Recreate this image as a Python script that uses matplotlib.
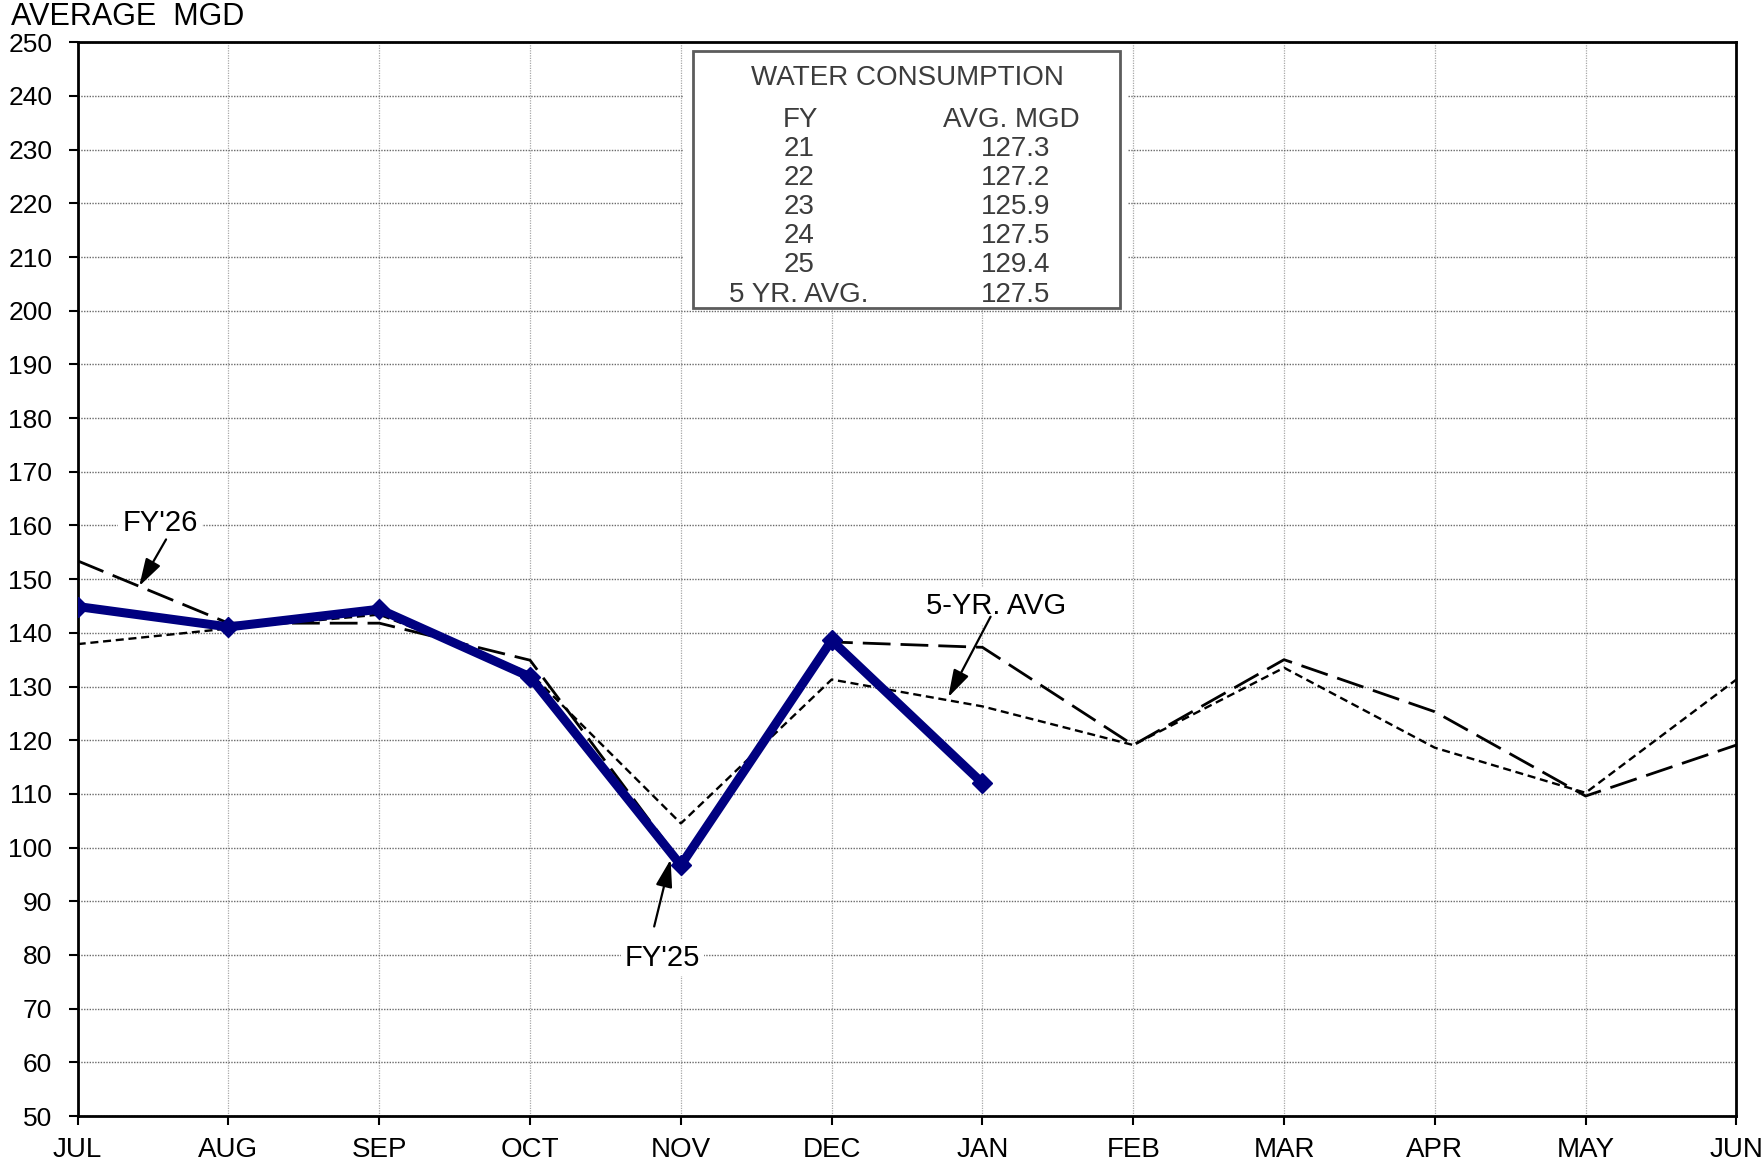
import matplotlib
matplotlib.use("Agg")
import matplotlib.pyplot as plt
from matplotlib.patches import Rectangle

plt.rcParams['font.family'] = ['Liberation Sans', 'DejaVu Sans']

# ---- data -------------------------------------------------------------
months = ['JUL', 'AUG', 'SEP', 'OCT', 'NOV', 'DEC',
          'JAN', 'FEB', 'MAR', 'APR', 'MAY', 'JUN']
fy26_mgd = [144.9, 141.1, 144.4, 131.8, 96.7, 138.6, 112.0]
fy25_mgd = [153.4, 141.8, 141.8, 134.9, 97.2, 138.3,
            137.3, 119.1, 135.0, 125.3, 109.6, 119.1]
avg5_mgd = [137.9, 140.8, 143.4, 132.5, 104.5, 131.3,
            126.3, 119.1, 133.5, 118.6, 110.2, 131.3]

table_fy = ['21', '22', '23', '24', '25', '5 YR. AVG.']
table_avg = ['127.3', '127.2', '125.9', '127.5', '129.4', '127.5']

y_ticks = list(range(50, 251, 10))

# ---- figure / axes ----------------------------------------------------
W, H = 1763, 1166
L, R, T, B = 77.7, 1736.4, 42.3, 1116.0
fig = plt.figure(figsize=(W / 100, H / 100), dpi=100)
ax = fig.add_axes([L / W, 1 - B / H, (R - L) / W, (B - T) / H])

x_all = list(range(len(months)))
ax.set_xlim(0, len(months) - 1)
ax.set_ylim(50, 250)
ax.set_xticks(x_all)
ax.set_xticklabels(months)
ax.set_yticks(y_ticks)

ax.set_axisbelow(True)
ax.yaxis.grid(True, color='#6a6a6a', lw=1.0, ls=(0, (1, 1)))
ax.xaxis.grid(True, color='#a8a8a8', lw=0.9, ls=(0, (1, 1)))

for sp in ax.spines.values():
    sp.set_linewidth(2.0)
    sp.set_color('black')

ax.tick_params(axis='both', direction='out', length=6.3, width=1.5,
               colors='black')
ax.tick_params(axis='y', pad=12, labelsize=19)
ax.tick_params(axis='x', pad=9, labelsize=20)

# ---- series -----------------------------------------------------------
ax.plot(x_all, avg5_mgd, color='black', lw=1.7, dashes=(3.4, 2.0), zorder=3)
ax.plot(x_all, fy25_mgd, color='black', lw=2.0, dashes=(10, 3.6), zorder=3)
ax.plot(x_all[:len(fy26_mgd)], fy26_mgd, color='#000080', lw=6.5,
        marker='D', ms=10, zorder=4)

# ---- y-axis title -----------------------------------------------------
fig.text(11 / W, 1 - 25 / H, 'AVERAGE  MGD', fontsize=22,
         ha='left', va='baseline')


# ---- summary table ----------------------------------------------------
def axpt(px, py):
    return (px - L) / (R - L), (B - py) / (B - T)


x0, y0 = axpt(683, 309)
x1, y1 = axpt(1128, T)
ax.add_patch(Rectangle((x0, y0), x1 - x0, y1 - y0, transform=ax.transAxes,
                       facecolor='white', edgecolor='none', zorder=1))
x0, y0 = axpt(693.3, 308)
x1, y1 = axpt(1120, 51)
ax.add_patch(Rectangle((x0, y0), x1 - x0, y1 - y0, transform=ax.transAxes,
                       facecolor='none', edgecolor='#5c5c5c', lw=2.0, zorder=2))

tcol = '#3c3c3c'
tfs = 20
ax.text(*axpt(907.5, 85), 'WATER CONSUMPTION', transform=ax.transAxes,
        ha='center', va='baseline', fontsize=tfs, color=tcol, zorder=5)
ax.text(*axpt(800, 126.7), 'FY', transform=ax.transAxes,
        ha='center', va='baseline', fontsize=tfs, color=tcol, zorder=5)
ax.text(*axpt(1011.7, 126.7), 'AVG. MGD', transform=ax.transAxes,
        ha='center', va='baseline', fontsize=tfs, color=tcol, zorder=5)
row_baselines = [156, 185, 214, 243.3, 272.3, 301.7]
for fy, val, yb in zip(table_fy, table_avg, row_baselines):
    ax.text(*axpt(799, yb), fy, transform=ax.transAxes,
            ha='center', va='baseline', fontsize=tfs, color=tcol, zorder=5)
    ax.text(*axpt(1015.8, yb), val, transform=ax.transAxes,
            ha='center', va='baseline', fontsize=tfs, color=tcol, zorder=5)

# ---- series labels with arrows ---------------------------------------
arrow = dict(arrowstyle='-|>,head_length=0.6,head_width=0.18',
             color='black', lw=1.6, mutation_scale=28,
             shrinkA=0, shrinkB=0)
label_box = dict(facecolor='white', edgecolor='none', pad=3)

ax.text(0.545, 159.0, "FY'26", fontsize=21, ha='center', va='baseline',
        bbox=label_box, zorder=5)
ax.annotate('', xy=(0.408, 148.7), xytext=(0.586, 157.4),
            arrowprops=arrow, zorder=6)

ax.text(6.09, 143.6, '5-YR. AVG', fontsize=21, ha='center', va='baseline',
        bbox=label_box, zorder=5)
ax.annotate('', xy=(5.773, 128.0), xytext=(6.054, 143.0),
            arrowprops=arrow, zorder=6)

ax.text(3.877, 78.0, "FY'25", fontsize=21, ha='center', va='baseline',
        bbox=label_box, zorder=5)
ax.annotate('', xy=(3.932, 97.8), xytext=(3.823, 85.3),
            arrowprops=arrow, zorder=6)

fig.savefig('out.png', dpi=100, facecolor='white')
